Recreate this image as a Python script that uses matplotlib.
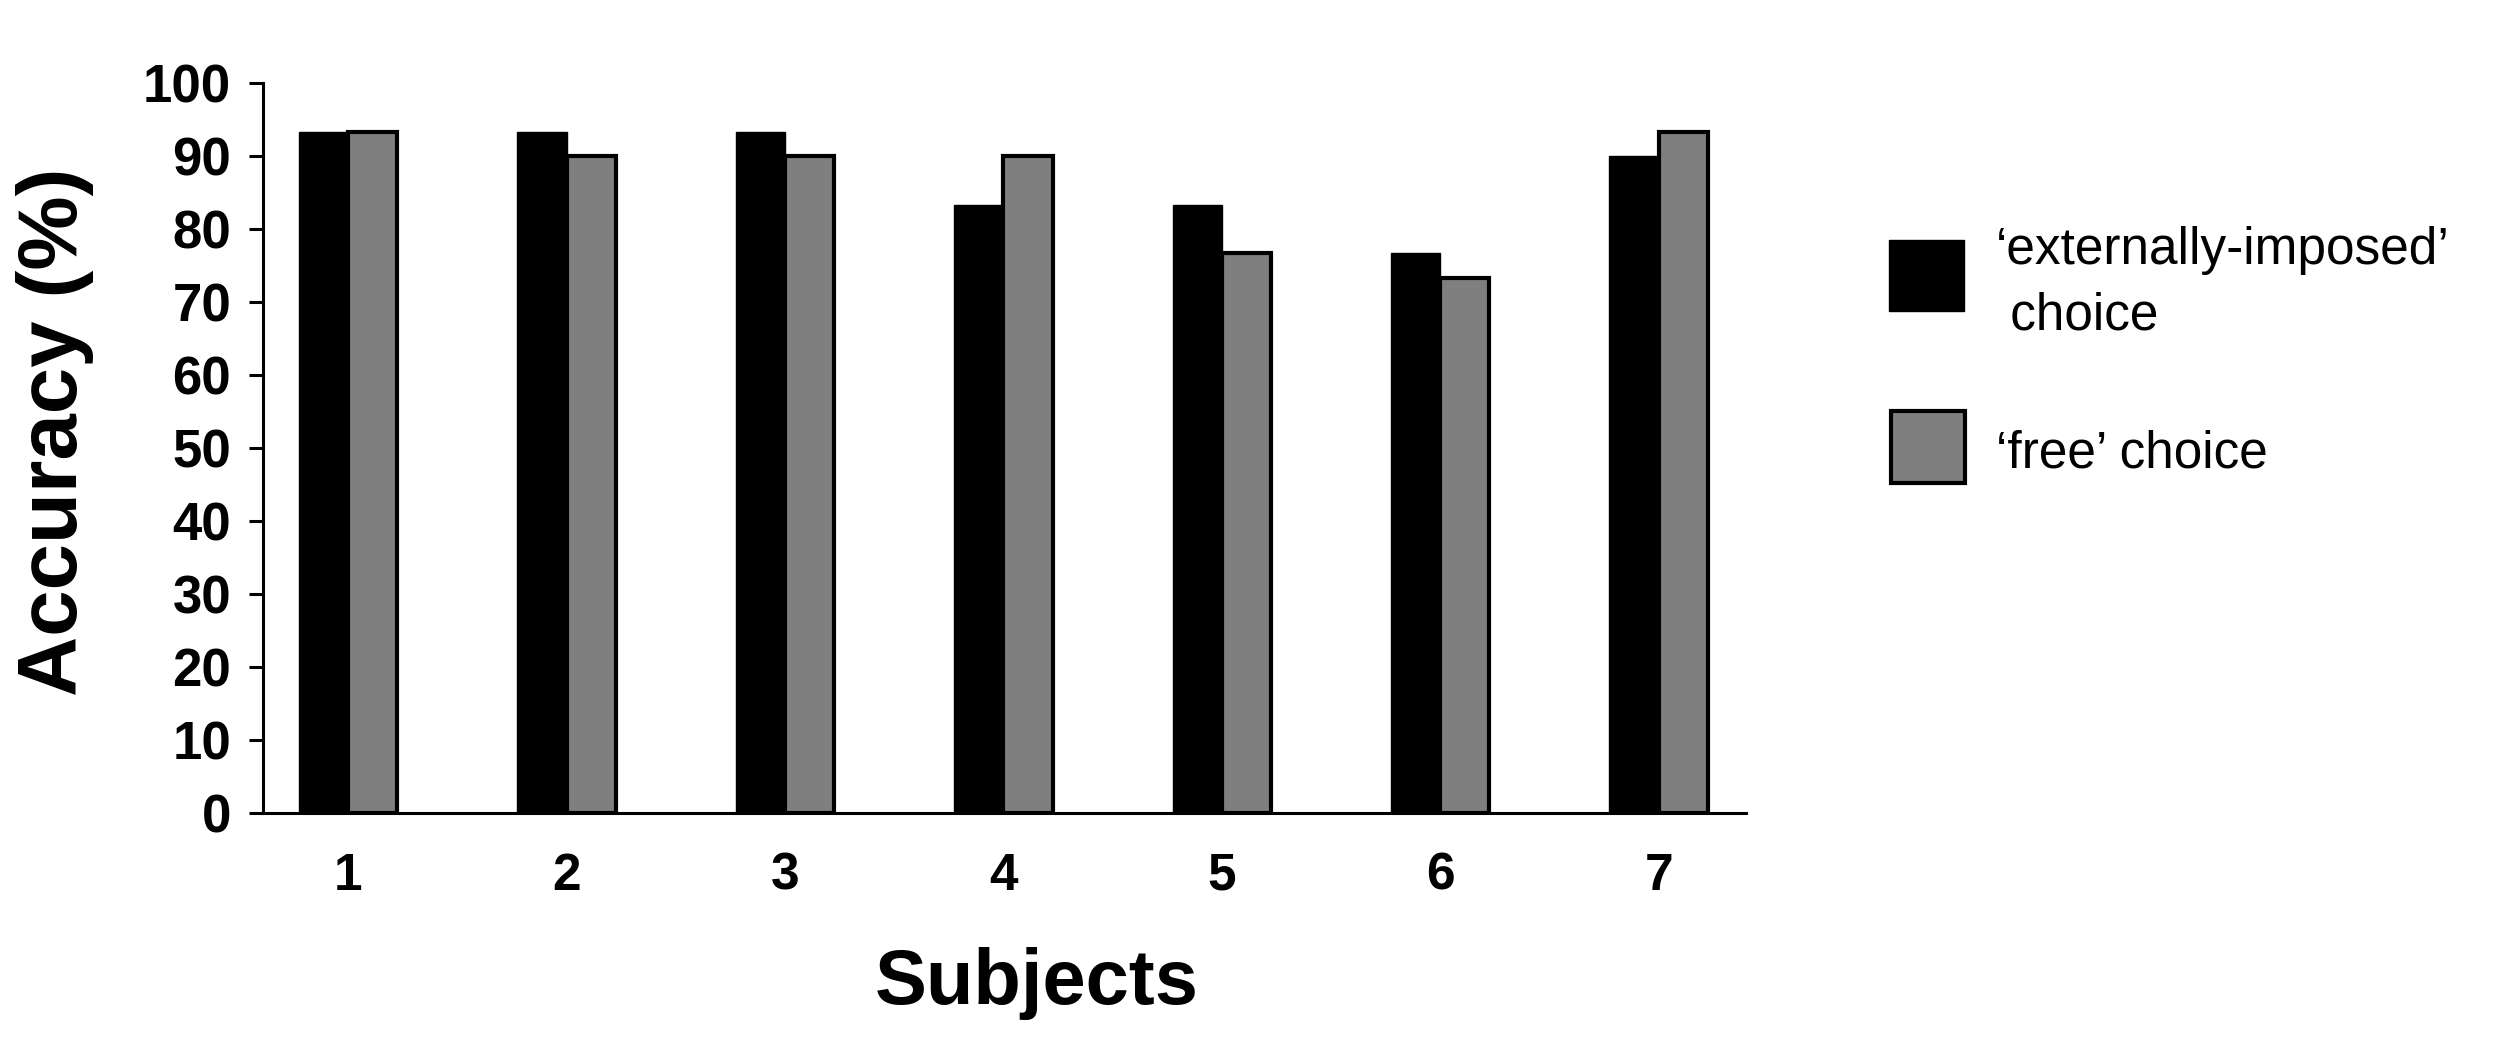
import matplotlib
matplotlib.use("Agg")
import matplotlib.pyplot as plt
from matplotlib.patches import Rectangle
import numpy as np

plt.rcParams['font.family'] = ['Liberation Sans', 'DejaVu Sans']

subjects = ['1', '2', '3', '4', '5', '6', '7']
externally_imposed = [93.3, 93.3, 93.3, 83.3, 83.3, 76.7, 90.0]
free_choice = [93.3, 90.0, 90.0, 90.0, 76.7, 73.3, 93.3]
series_labels = ["\u2018externally-imposed\u2019\n choice", "\u2018free\u2019 choice"]
series_colors = ['#000000', '#7f7f7f']
yticks = [0, 10, 20, 30, 40, 50, 60, 70, 80, 90, 100]

fig = plt.figure(figsize=(25, 10.44), dpi=100)
ax = fig.add_axes([0.1052, 0.2213, 0.5932, 0.6992])

x = np.arange(1, len(subjects) + 1)
w = 0.225
ax.bar(x - w / 2, externally_imposed, width=w, color=series_colors[0],
       edgecolor='black', linewidth=1.0)
ax.bar(x + w / 2, free_choice, width=w, color=series_colors[1],
       edgecolor='black', linewidth=3.0)

ax.set_xlim(0.61, 7.40)
ax.set_ylim(0, 100)
ax.set_yticks(yticks)
ax.set_yticklabels([str(t) for t in yticks], fontsize=38, fontweight='bold')
ax.set_xticks(x)
ax.set_xticklabels(subjects, fontsize=37, fontweight='bold')
ax.tick_params(axis='y', length=10, width=2.2, pad=13)
ax.tick_params(axis='x', length=0, pad=28)
for s in ['top', 'right']:
    ax.spines[s].set_visible(False)
for s in ['left', 'bottom']:
    ax.spines[s].set_linewidth(2.2)

ax.set_xlabel('Subjects', fontsize=56, fontweight='bold')
ax.xaxis.set_label_coords(0.522, -0.184)
ax.set_ylabel('Accuracy (%)', fontsize=60, fontweight='bold')
ax.yaxis.set_label_coords(-0.114, 0.522)

# legend (manual placement)
fig.patches.append(Rectangle((0.7556, 1 - 311 / 1044), 0.030, 71 / 1044,
                             transform=fig.transFigure, facecolor=series_colors[0],
                             edgecolor='black', linewidth=1.0))
fig.patches.append(Rectangle((0.7562, 1 - 483 / 1044), 0.0296, 72 / 1044,
                             transform=fig.transFigure, facecolor=series_colors[1],
                             edgecolor='black', linewidth=3.0))
fig.text(0.7985, 1 - 330 / 1044, series_labels[0], fontsize=37, va='baseline',
         ha='left', linespacing=1.45)
fig.text(0.7985, 1 - 468 / 1044, series_labels[1], fontsize=37, va='baseline',
         ha='left')

fig.savefig('out.png', dpi=100, facecolor='white')
